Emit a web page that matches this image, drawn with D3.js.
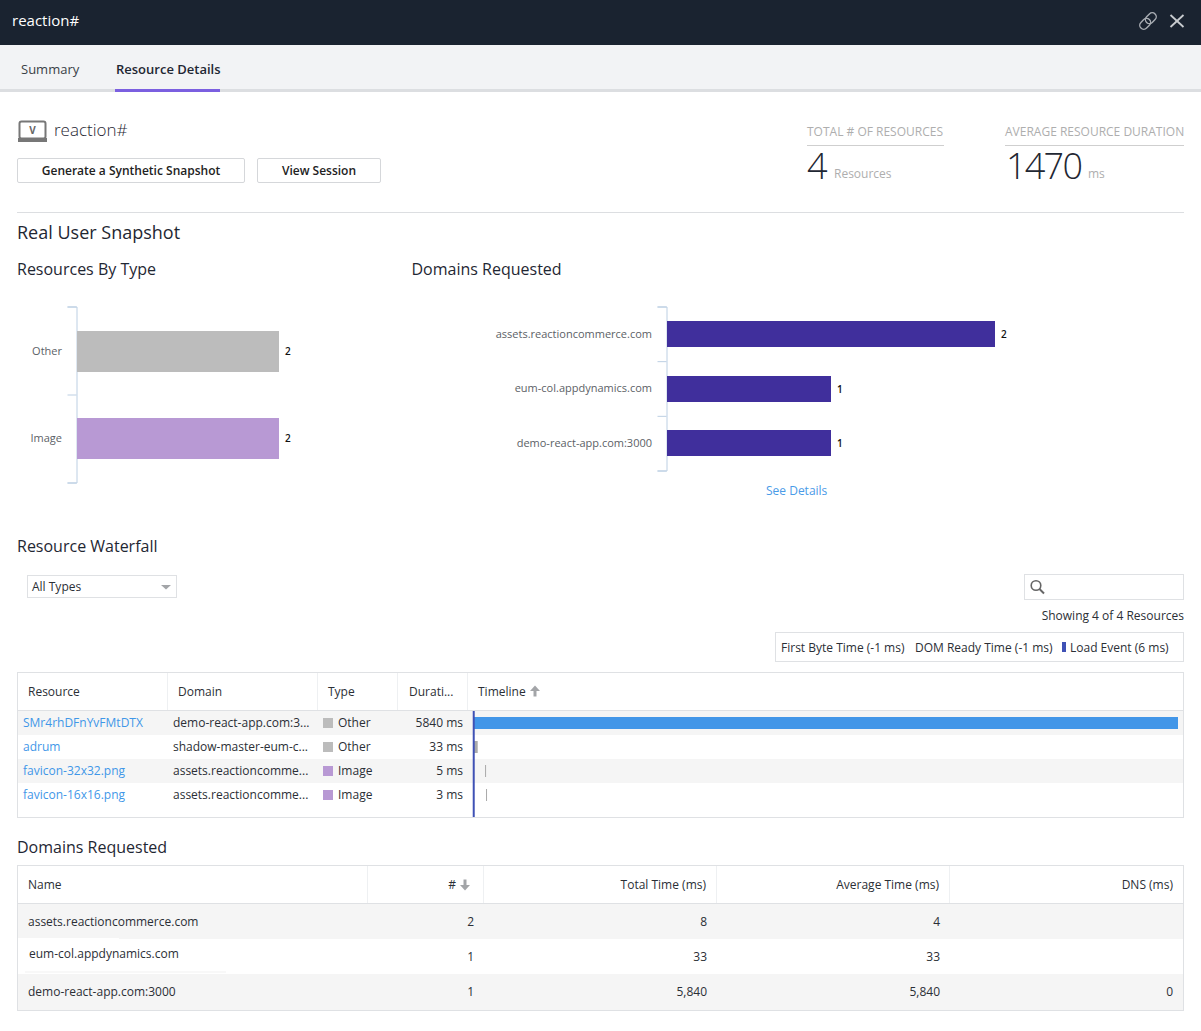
<!DOCTYPE html>
<html>
<head>
<meta charset="utf-8">
<title>reaction#</title>
<script src="https://cdn.jsdelivr.net/npm/d3@7"></script>
<style>
  html, body { margin: 0; padding: 0; background: #fff; }
  svg { display: block; }
  text { font-family: "Open Sans", sans-serif; font-size: 12px; fill: #2b2f36; }
  .heading { font-size: 16px; fill: #1f2733; }
  .link { fill: #3f97e8; }
  .axis-band text { font-size: 11px; fill: #5c5f66; }
  .axis-edge path, .axis-edge line { stroke: #bccfe3; }
  .axis-edge text { display: none; }
</style>
</head>
<body>
<div id="page"></div>
<script>
const typeNames = ["Other", "Image"];
const typeCounts = [2, 2];
const typeColors = ["#bcbcbc", "#b899d4"];

const domainNames = ["assets.reactioncommerce.com", "eum-col.appdynamics.com", "demo-react-app.com:3000"];
const domainCounts = [2, 1, 1];

const resourceNames = ["SMr4rhDFnYvFMtDTX", "adrum", "favicon-32x32.png", "favicon-16x16.png"];
const resourceDomains = ["demo-react-app.com:3...", "shadow-master-eum-c...", "assets.reactioncomme...", "assets.reactioncomme..."];
const resourceTypes = ["Other", "Other", "Image", "Image"];
const resourceDurations = [5840, 33, 5, 3];
const resourceStarts = [6, 6, 100, 108]; // ms
const loadEvent = 6;

const domainTotals = ["8", "33", "5,840"];
const domainAverages = ["4", "33", "5,840"];
const domainDns = ["", "", "0"];

const svg = d3.select("#page").append("svg").attr("width", 1201).attr("height", 1031);

function label(x, y, str, size, color, anchor, weight) {
  const t = svg.append("text").attr("x", x).attr("y", y).text(str);
  if (size) t.style("font-size", size + "px");
  if (color) t.style("fill", color);
  if (anchor) t.attr("text-anchor", anchor);
  if (weight) t.style("font-weight", weight);
  return t;
}

function box(x, y, w, h, fill, stroke) {
  return svg.append("rect").attr("x", x).attr("y", y).attr("width", w).attr("height", h)
    .attr("fill", fill).attr("stroke", stroke || "none");
}

function rule(x1, y1, x2, y2, color, width) {
  return svg.append("line").attr("x1", x1).attr("y1", y1).attr("x2", x2).attr("y2", y2)
    .attr("stroke", color).attr("stroke-width", width || 1);
}

// Sort arrow, drawn pointing up and turned over for descending
function sortArrow(cx, cy, down) {
  const g = svg.append("g").attr("transform", "translate(" + cx + "," + cy + ")" + (down ? " rotate(180)" : ""));
  g.append("path").attr("d", "M-5,0L0,-5.5L5,0Z").attr("fill", "#a3a5a8");
  g.append("line").attr("x1", 0).attr("y1", -1).attr("x2", 0).attr("y2", 5.5)
    .attr("stroke", "#a3a5a8").attr("stroke-width", 3);
}

// Header and tabs
box(0, 0, 1201, 45, "#1a2330");
label(12, 26, "reaction#", 15, "#fff");
svg.append("g").attr("transform", "translate(1148,21) rotate(-45)")
  .call(function (g) {
    g.append("rect").attr("x", -10).attr("y", -4).attr("width", 12).attr("height", 8).attr("rx", 4)
      .attr("fill", "none").attr("stroke", "#a9adb3").attr("stroke-width", 1.4);
    g.append("rect").attr("x", -2).attr("y", -4).attr("width", 12).attr("height", 8).attr("rx", 4)
      .attr("fill", "none").attr("stroke", "#a9adb3").attr("stroke-width", 1.4);
  });
rule(1170.5, 15, 1183.5, 27, "#c9ccd0", 1.8);
rule(1183.5, 15, 1170.5, 27, "#c9ccd0", 1.8);

box(0, 45, 1201, 44, "#f2f3f5");
box(0, 89, 1201, 3, "#dcdee1");
box(115, 89, 105, 3, "#7b5fe0");
label(21, 74, "Summary", 13, "#3a3f47");
label(116, 74, "Resource Details", 13, "#1f2733", null, 600);

// Title block
svg.append("rect").attr("x", 19.5).attr("y", 121.5).attr("width", 26).attr("height", 17).attr("rx", 2)
  .attr("fill", "#fff").attr("stroke", "#777").attr("stroke-width", 2);
box(18, 138, 29, 4, "#777");
label(32.5, 134, "V", 10, "#666", "middle", 700);
label(54, 136, "reaction#", 17, "#1f2733", null, 300);

box(17.5, 158.5, 227, 24, "#fff", "#d5d7da").attr("rx", 1.5);
box(257.5, 158.5, 123, 24, "#fff", "#d5d7da").attr("rx", 1.5);
label(131, 175, "Generate a Synthetic Snapshot", 12, "#222", "middle", 600);
label(319, 175, "View Session", 12, "#222", "middle", 600);

// Summary stats
label(807, 136, "TOTAL # OF RESOURCES", 12, "#aeaeae");
rule(807, 145.5, 944, 145.5, "#cfcfcf");
label(807, 179, resourceNames.length, 36, "#1f2733", null, 300);
label(834, 178, "Resources", 12, "#aeaeae");
label(1005, 136, "AVERAGE RESOURCE DURATION", 12, "#aeaeae");
rule(1005, 145.5, 1184, 145.5, "#cfcfcf");
label(1006, 179, "1470", 36, "#1f2733", null, 300).style("letter-spacing", "-1.75px");
label(1088, 178, "ms", 12, "#aeaeae");

rule(17, 212.5, 1184, 212.5, "#dcdee1");
label(17, 239, "Real User Snapshot", 18, "#1f2733");
label(17, 275, "Resources By Type").attr("class", "heading");
label(411.5, 275, "Domains Requested").attr("class", "heading");

// Horizontal bar chart with ticks on the band edges
function barChart(names, counts, colors, x0, x1, y0, y1, inner, outer) {
  const y = d3.scaleBand().domain(names).range([y0, y1]).paddingInner(inner).paddingOuter(outer);
  const x = d3.scaleLinear().domain([0, d3.max(counts)]).range([x0, x1]);
  const edges = d3.scaleLinear().domain([0, names.length]).range([y0, y1]);

  svg.append("g")
    .attr("class", "axis-edge")
    .attr("transform", "translate(" + (x0 - 0.5) + ",0)")
    .call(d3.axisLeft(edges).tickValues(d3.range(names.length + 1)).tickSize(9).tickSizeOuter(9));

  const bandAxis = svg.append("g")
    .attr("class", "axis-band")
    .attr("transform", "translate(" + (x0 - 0.5) + ",0)")
    .call(d3.axisLeft(y).tickSize(0).tickPadding(14.5));
  bandAxis.select(".domain").remove();

  svg.selectAll(null).data(names).enter().append("rect")
    .attr("x", x0)
    .attr("y", function (d) { return Math.round(y(d)); })
    .attr("width", function (d, i) { return x(counts[i]) - x0; })
    .attr("height", Math.round(y.bandwidth()))
    .attr("fill", function (d, i) { return colors[i % colors.length]; });

  svg.selectAll(null).data(names).enter().append("text")
    .attr("x", function (d, i) { return x(counts[i]) + 6; })
    .attr("y", function (d) { return y(d) + y.bandwidth() / 2 + 4; })
    .style("font-size", "10px")
    .style("font-weight", 600)
    .style("fill", "#111")
    .text(function (d, i) { return counts[i]; });
}

barChart(typeNames, typeCounts, typeColors, 77, 279, 306.5, 482.5, 0.529, 0.276);
barChart(domainNames, domainCounts, ["#402f9c"], 667, 995, 306.5, 470.5, 0.53, 0.27);
label(766, 495, "See Details", 12, "#4a9be8");

// Waterfall controls
label(17, 552, "Resource Waterfall").attr("class", "heading");
box(27.5, 575.5, 149, 22, "#fff", "#dfe1e4");
label(32, 591, "All Types");
svg.append("path").attr("d", "M161,585L171,585L166,589.5Z").attr("fill", "#a3a5a8");
box(1024.5, 574.5, 159, 25, "#fff", "#dfe1e4");
svg.append("circle").attr("cx", 1036).attr("cy", 585.5).attr("r", 4.8)
  .attr("fill", "none").attr("stroke", "#666").attr("stroke-width", 1.6);
rule(1039.5, 589, 1044, 593.5, "#666", 2);
label(1184, 620, "Showing 4 of 4 Resources", 12, "#2b2f36", "end");
box(775.5, 632.5, 408, 29, "#fff", "#dfe1e4");
label(781, 652, "First Byte Time (-1 ms)");
label(915, 652, "DOM Ready Time (-1 ms)");
box(1062, 642, 4, 10, "#3f51b5");
label(1070, 652, "Load Event (6 ms)");

// Waterfall table
box(17.5, 672.5, 1166, 145, "#fff", "#dfe1e4");
[167.5, 317.5, 397.5, 467.5].forEach(function (x) { rule(x, 673, x, 710, "#eef0f2"); });
rule(18, 710.5, 1183, 710.5, "#dfe1e4");
label(28, 696, "Resource");
label(178, 696, "Domain");
label(328, 696, "Type");
label(409, 696, "Durati...");
label(478, 696, "Timeline");
sortArrow(535, 691, false);

const rowY = d3.scaleBand().domain(resourceNames).range([711, 807]);
const timeX = d3.scaleLinear().domain([0, 5846]).range([473, 1178]);
const typeColor = d3.scaleOrdinal().domain(typeNames).range(typeColors);

const rows = svg.selectAll(".row").data(resourceNames).enter().append("g").attr("class", "row")
  .attr("transform", function (d) { return "translate(0," + rowY(d) + ")"; });
rows.append("rect").attr("x", 18).attr("width", 1165).attr("height", rowY.bandwidth())
  .attr("fill", function (d, i) { return i % 2 === 0 ? "#f5f5f5" : "#fff"; });
rows.append("text").attr("class", "link").attr("x", 23).attr("y", 16).text(function (d) { return d; });
rows.append("text").attr("x", 173).attr("y", 16).text(function (d, i) { return resourceDomains[i]; });
rows.append("rect").attr("x", 323).attr("y", 7).attr("width", 10).attr("height", 10)
  .attr("fill", function (d, i) { return typeColor(resourceTypes[i]); });
rows.append("text").attr("x", 338).attr("y", 16).text(function (d, i) { return resourceTypes[i]; });
rows.append("text").attr("x", 463).attr("y", 16).attr("text-anchor", "end")
  .text(function (d, i) { return resourceDurations[i] + " ms"; });
rows.append("rect")
  .attr("x", function (d, i) { return timeX(resourceStarts[i]); })
  .attr("y", 6)
  .attr("width", function (d, i) { return Math.max(1, timeX(resourceDurations[i]) - timeX(0)); })
  .attr("height", 12)
  .attr("fill", function (d, i) { return i === 0 ? "#4296e8" : "#aaaaaa"; });

rule(timeX(loadEvent), 711, timeX(loadEvent), 817, "#3f51b5", 2);

// Domains table
label(17, 853, "Domains Requested").attr("class", "heading");
box(17.5, 865.5, 1166, 145, "#fff", "#dfe1e4");
[367.5, 483.5, 716.5, 949.5].forEach(function (x) { rule(x, 866, x, 903, "#eef0f2"); });
rule(18, 903.5, 1183, 903.5, "#dfe1e4");
label(28, 889, "Name");
label(456, 889, "#", 12, null, "end");
sortArrow(465, 885, true);
label(706, 889, "Total Time (ms)", 12, null, "end");
label(939, 889, "Average Time (ms)", 12, null, "end");
label(1173, 889, "DNS (ms)", 12, null, "end");

const domRowY = d3.scaleBand().domain(domainNames).range([904, 1010]);
const domRows = svg.selectAll(".dom-row").data(domainNames).enter().append("g").attr("class", "dom-row")
  .attr("transform", function (d) { return "translate(0," + Math.floor(domRowY(d)) + ")"; });
domRows.append("rect").attr("x", 18).attr("width", 1165).attr("height", 36)
  .attr("fill", function (d, i) { return i % 2 === 0 ? "#f5f5f5" : "#fff"; });
domRows.append("text").attr("x", function (d, i) { return i === 1 ? 29 : 28; })
  .attr("y", function (d, i) { return i === 1 ? 19 : 22; })
  .text(function (d) { return d; });
domRows.append("text").attr("x", 474).attr("y", 22).attr("text-anchor", "end")
  .text(function (d, i) { return domainCounts[i]; });
domRows.append("text").attr("x", 707).attr("y", 22).attr("text-anchor", "end")
  .text(function (d, i) { return domainTotals[i]; });
domRows.append("text").attr("x", 940).attr("y", 22).attr("text-anchor", "end")
  .text(function (d, i) { return domainAverages[i]; });
domRows.append("text").attr("x", 1173).attr("y", 22).attr("text-anchor", "end")
  .text(function (d, i) { return domainDns[i]; });

// Small smudges left around the second row in the screenshot
box(18, 938, 101, 1, "#fff");
box(25, 971, 201, 2, "#f8f8f8");
</script>
</body>
</html>
